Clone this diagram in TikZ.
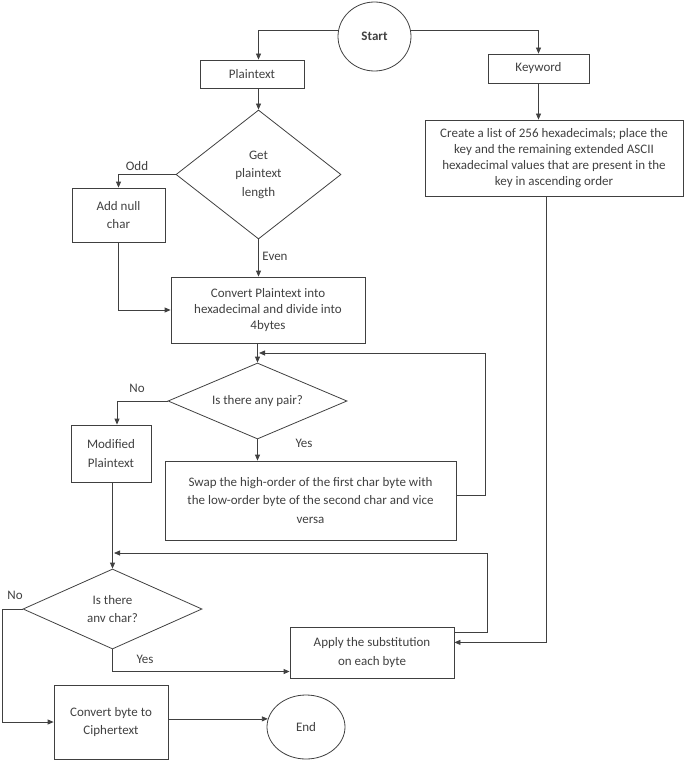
\documentclass[tikz,border=0pt]{standalone}
\usepackage{fontspec}
\setmainfont{Carlito}
\usetikzlibrary{shapes.geometric,arrows.meta}
\definecolor{ln}{HTML}{404040}
\begin{document}
\begin{tikzpicture}[x=1pt,y=-1pt,>={Triangle[length=6pt,width=5pt]},font=\fontsize{13}{18.5}\selectfont]
\tikzstyle{every node}=[text=ln,inner sep=0pt];
\tikzstyle{box}=[draw=ln,line width=0.8pt,align=center];
\tikzstyle{term}=[draw=ln,line width=0.8pt,shape=ellipse];
\tikzstyle{dec}=[draw=ln,line width=0.8pt,shape=diamond,align=center];
\tikzstyle{arr}=[draw=ln,line width=0.8pt,->];
\useasboundingbox (0,0) rectangle (685,762);

\node[term,minimum width=73pt,minimum height=69pt] (start) at (374.5,36.5) {\textbf{Start}};
\node[box,minimum width=104pt,minimum height=28pt] (plain) at (252,74) {Plaintext};
\node[box,minimum width=101pt,minimum height=29pt] (key) at (538.5,68.5) {Keyword};
\node[box,minimum width=258pt,minimum height=76pt,font=\fontsize{13}{15.8}\selectfont] (create) at (554,158)
	{Create a list of 256 hexadecimals; place the\\key and the remaining extended ASCII\\hexadecimal values that are present in the\\key in ascending order};
\node[dec,minimum width=165pt,minimum height=129pt,shape aspect=1.28] (dia1) at (258.5,174.5) {Get\\plaintext\\length};
\node[box,minimum width=93pt,minimum height=54pt] (addnull) at (118.5,215) {Add null\\char};
\node[box,minimum width=194pt,minimum height=66pt,font=\fontsize{13}{15.8}\selectfont] (conv) at (268,310)
	{Convert Plaintext into\\hexadecimal and divide into\\4bytes};
\node[dec,minimum width=179pt,minimum height=76pt,shape aspect=2.36] (dia2) at (257.5,401) {Is there any pair?};
\node[box,minimum width=80pt,minimum height=57pt] (modp) at (111,453.5) {Modified\\Plaintext};
\node[box,minimum width=291pt,minimum height=79pt] (swap) at (310.5,500.5)
	{Swap the high-order of the first char byte with\\the low-order byte of the second char and vice\\versa};
\node[dec,minimum width=179pt,minimum height=80pt,shape aspect=2.24] (dia3) at (112.5,609) {Is there\\anv char?};
\node[box,minimum width=164pt,minimum height=51pt] (apply) at (372,652.5) {Apply the substitution\\on each byte};
\node[box,minimum width=114pt,minimum height=74pt] (conv2) at (111,722) {Convert byte to\\Ciphertext};
\node[term,minimum width=78pt,minimum height=64pt] (end) at (306,727) {End};

\node (lodd) at (137,166) {Odd};
\node (leven) at (275,256) {Even};
\node (lno1) at (137,388) {No};
\node (lyes1) at (304,443) {Yes};
\node (lno2) at (15,595) {No};
\node (lyes2) at (145,659) {Yes};

\coordinate (j1) at (485,353);
\coordinate (j2) at (487,553);

\draw[arr] (start.170) -| (plain.north -| dia1.north);
\draw[arr] (start.10) -| (key.north);
\draw[arr] (key.south) -- (key.south |- create.north);
\draw[arr] (plain.south -| dia1.north) -- (dia1.north);
\draw[arr] (dia1.west) -| (addnull.north);
\draw[arr] (addnull.south) |- (conv.west);
\draw[arr] (dia1.south) -- (dia1.south |- conv.north);
\draw[arr] (conv.south -| dia2.north) -- (dia2.north);
\draw[arr] (dia2.west) -| ([xshift=6pt]modp.north);
\draw[arr] (dia2.south) -- (dia2.south |- swap.north);
\draw[arr,shorten >=1.5pt] (swap.2) -| (j1) -- (j1 -| dia2.north);
\draw[arr] (modp.south -| dia3.north) -- (dia3.north);
\draw[arr,shorten >=1.5pt] (apply.14) -| (j2) -- (j2 -| dia3.north);
\draw[arr] ([xshift=-8pt]create.south) |- (apply.7);
\draw[arr] (dia3.south) |- (apply.193);
\draw[arr] (dia3.west) -- ++(-20,0) |- (conv2.west);
\draw[arr] (conv2.east |- end.168) -- (end.168);
\end{tikzpicture}
\end{document}
